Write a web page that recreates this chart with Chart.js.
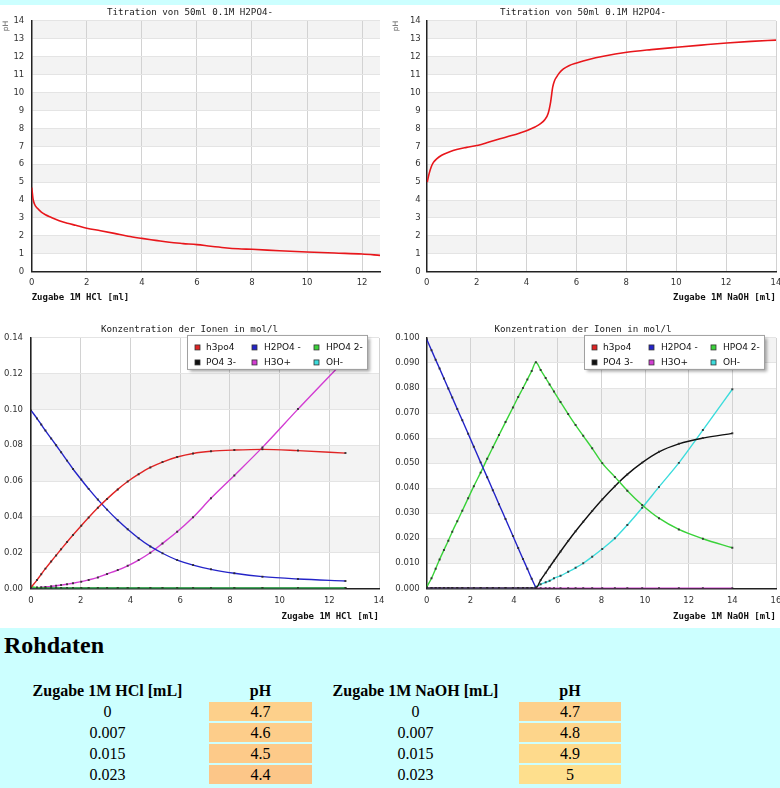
<!DOCTYPE html>
<html lang="de">
<head>
<meta charset="utf-8">
<title>Titration von 50ml 0.1M H2PO4-</title>
<script src="https://cdn.jsdelivr.net/npm/chart.js@4.4.1/dist/chart.umd.min.js"></script>
<style>
  body { margin: 0; background: #ccffff; font-family: "Liberation Serif", "Times New Roman", serif; }
  #charts { position: relative; margin-top: 5px; width: 780px; height: 623px; background: #fff; }
  #charts canvas { position: absolute; }
  h2 { margin: 3px 0 0 4px; font-size: 24px; line-height: 28px; }
  table { margin: 20px 0 0 6px; border-spacing: 2px; font-size: 16px; }
  th, td { padding: 0; height: 19px; text-align: center; }
</style>
</head>
<body>
<div id="charts">
  <canvas id="phHcl" width="390" height="311" style="left:0;top:0"></canvas>
  <canvas id="phNaoh" width="390" height="311" style="left:390px;top:0"></canvas>
  <canvas id="ionHcl" width="390" height="311" style="left:0;top:311px"></canvas>
  <canvas id="ionNaoh" width="390" height="311" style="left:390px;top:311px"></canvas>
</div>
<h2>Rohdaten</h2>
<table id="raw">
  <thead>
    <tr><th style="width:199px">Zugabe 1M HCl [mL]</th><th style="width:103px">pH</th><th style="width:203px">Zugabe 1M NaOH [mL]</th><th style="width:102px">pH</th></tr>
  </thead>
  <tbody></tbody>
</table>
<script>
// pH-Kurven (oben)
const hclVolume = [0, 0.007, 0.015, 0.023, 0.05, 0.1, 0.2, 0.35, 0.5, 0.7, 1.0, 1.3, 1.6, 2.0, 2.5, 3.0, 3.5, 4.0, 4.5, 5.0, 5.5, 6.0, 6.5, 7.0, 7.5, 8.0, 9.0, 10.0, 11.0, 12.0, 12.65];
const hclPH = [4.7, 4.6, 4.5, 4.4, 4.05, 3.78, 3.55, 3.33, 3.18, 3.04, 2.85, 2.71, 2.59, 2.43, 2.29, 2.14, 1.98, 1.86, 1.75, 1.64, 1.57, 1.51, 1.42, 1.34, 1.28, 1.25, 1.17, 1.10, 1.04, 0.99, 0.91];

const naohVolume = [0.023, 0.06, 0.1, 0.18, 0.27, 0.4, 0.6, 0.9, 1.2, 1.6, 2.07, 2.5, 2.94, 3.4, 3.74, 4.05, 4.34, 4.55, 4.74, 4.87, 4.97, 5.05, 5.12, 5.21, 5.33, 5.48, 5.7, 6.01, 6.5, 7.08, 8.02, 9.0, 10.02, 11.0, 12.02, 13.0, 14.0];
const naohPH = [5.0, 5.25, 5.49, 5.85, 6.1, 6.3, 6.5, 6.68, 6.82, 6.94, 7.06, 7.24, 7.42, 7.6, 7.75, 7.9, 8.08, 8.25, 8.5, 8.85, 9.5, 10.3, 10.65, 10.88, 11.12, 11.32, 11.5, 11.65, 11.85, 12.03, 12.25, 12.4, 12.53, 12.65, 12.77, 12.86, 12.93];

// Ionenkonzentrationen, HCl (unten links)
const hclIonVolume = [0, 0.24, 0.41, 0.58, 0.81, 1.01, 1.21, 1.45, 1.69, 2.02, 2.32, 2.69, 3.06, 3.49, 3.89, 4.33, 4.80, 5.29, 5.88, 6.52, 7.24, 8.18, 9.31, 10.74, 12.65];
const hclH3PO4 = [0.0005, 0.0046, 0.0078, 0.0110, 0.0150, 0.0184, 0.0218, 0.0259, 0.0298, 0.0350, 0.0396, 0.0450, 0.0500, 0.0553, 0.0597, 0.0638, 0.0676, 0.0706, 0.0734, 0.0754, 0.0766, 0.0773, 0.0777, 0.0770, 0.0756];
const hclH2PO4 = [0.0995, 0.0950, 0.0916, 0.0882, 0.0838, 0.0800, 0.0761, 0.0714, 0.0667, 0.0608, 0.0556, 0.0496, 0.0440, 0.0380, 0.0330, 0.0280, 0.0234, 0.0196, 0.0158, 0.0130, 0.0106, 0.0084, 0.0065, 0.0052, 0.0041];
const hclHPO4 = [0.0010, 0.0003, 0.0002, 0.0001, 0.0001, 0, 0, 0, 0, 0, 0, 0, 0, 0, 0, 0, 0, 0, 0, 0, 0, 0, 0, 0, 0];
const hclPO4 = [0, 0, 0, 0, 0, 0, 0, 0, 0, 0, 0, 0, 0, 0, 0, 0, 0, 0, 0, 0, 0, 0, 0, 0, 0];
const hclH3O = [0.0001, 0.0004, 0.0006, 0.0008, 0.0011, 0.0014, 0.0018, 0.0023, 0.0028, 0.0037, 0.0047, 0.0061, 0.0080, 0.0102, 0.0126, 0.0158, 0.0199, 0.0251, 0.0316, 0.0397, 0.0503, 0.0631, 0.0788, 0.1002, 0.1280];
const hclOH = [0, 0, 0, 0, 0, 0, 0, 0, 0, 0, 0, 0, 0, 0, 0, 0, 0, 0, 0, 0, 0, 0, 0, 0, 0];

// Ionenkonzentrationen, NaOH (unten rechts)
const naohIonVolume = [0, 0.22, 0.41, 0.59, 0.79, 0.99, 1.17, 1.40, 1.63, 1.90, 2.16, 2.47, 2.77, 3.03, 3.31, 3.61, 3.95, 4.19, 4.41, 4.61, 4.81, 5.0, 5.22, 5.45, 5.63, 5.83, 6.13, 6.48, 6.82, 7.17, 7.58, 8.04, 8.62, 9.19, 9.87, 10.64, 11.55, 12.65, 14.0];
const naohH3PO4 = [];
const naohH2PO4 = [0.0995, 0.0951, 0.0913, 0.0878, 0.0838, 0.0798, 0.0762, 0.0716, 0.0671, 0.0617, 0.0565, 0.0503, 0.0444, 0.0392, 0.0336, 0.0277, 0.0209, 0.0161, 0.0117, 0.0078, 0.0038, 0.0002];
const naohHPO4 = [0.0005, 0.0040, 0.0078, 0.0115, 0.0153, 0.0190, 0.0226, 0.0268, 0.0310, 0.0360, 0.0408, 0.0462, 0.0517, 0.0563, 0.0612, 0.0664, 0.0722, 0.0764, 0.0800, 0.0834, 0.0868, 0.0903, 0.0872, 0.0840, 0.0814, 0.0786, 0.0744, 0.0696, 0.0652, 0.0609, 0.0559, 0.0500, 0.0445, 0.0390, 0.0333, 0.0280, 0.0235, 0.0198, 0.0162];
const naohPO4 = [0, 0, 0, 0, 0, 0, 0, 0, 0, 0, 0, 0, 0, 0, 0, 0, 0, 0, 0, 0, 0, 0, 0.0033, 0.0062, 0.0085, 0.0110, 0.0147, 0.0189, 0.0228, 0.0266, 0.0309, 0.0355, 0.0408, 0.0455, 0.0502, 0.0545, 0.0577, 0.0600, 0.0619];
const naohH3O = [0, 0, 0, 0, 0, 0, 0, 0, 0, 0, 0, 0, 0, 0, 0, 0, 0, 0, 0, 0, 0, 0, 0, 0, 0, 0, 0, 0, 0, 0, 0, 0, 0, 0, 0, 0, 0, 0, 0];
const naohOH = [0, 0, 0, 0, 0, 0, 0, 0, 0, 0, 0, 0, 0, 0, 0, 0, 0, 0, 0, 0, 0, 0.0006, 0.0016, 0.0024, 0.0030, 0.0040, 0.0050, 0.0066, 0.0082, 0.0100, 0.0126, 0.0157, 0.0200, 0.0253, 0.0322, 0.0405, 0.0501, 0.0632, 0.0795];

const ionLabels = ['h3po4', 'H2PO4 -', 'HPO4 2-', 'PO4 3-', 'H3O+', 'OH-'];
const ionColors = ['#e02424', '#2424c8', '#3ad23a', '#111111', '#d23cd2', '#3cdcdc'];

// Rohdaten-Tabelle
const rawHclVolume = ['0', '0.007', '0.015', '0.023'];
const rawHclPH = ['4.7', '4.6', '4.5', '4.4'];
const rawNaohVolume = ['0', '0.007', '0.015', '0.023'];
const rawNaohPH = ['4.7', '4.8', '4.9', '5'];
const rawHclColors = ['#fdd08b', '#fdcd8a', '#fdca89', '#fcc688'];
const rawNaohColors = ['#fdd08b', '#fdd58b', '#feda8c', '#fedf8d'];

Chart.defaults.animation = false;
Chart.defaults.responsive = false;
Chart.defaults.devicePixelRatio = 1;
Chart.defaults.events = [];
Chart.defaults.font.family = '"DejaVu Sans", Verdana, sans-serif';

const MONO = '"DejaVu Sans Mono", "Liberation Mono", monospace';

const pts = (xs, ys) => ys.map((y, i) => ({ x: xs[i], y })).filter(p => p.y !== null);

// alternating grey bands behind the plot
const bandPlugin = {
  id: 'bands',
  beforeDraw(chart) {
    const { ctx, chartArea: a, scales: { y } } = chart;
    ctx.save();
    ctx.fillStyle = '#f3f3f3';
    for (let i = 1; i + 1 < y.ticks.length; i += 2) {
      const top = y.getPixelForValue(y.ticks[i + 1].value);
      const bot = y.getPixelForValue(y.ticks[i].value);
      ctx.fillRect(a.left, top, a.right - a.left, bot - top);
    }
    ctx.restore();
  }
};

// boxed legend, 2 rows x 3 columns, top right inside the plot
const boxLegend = {
  id: 'boxLegend',
  afterDraw(chart) {
    const { ctx, chartArea: a } = chart;
    const w = 180, h = 34;
    const left = a.right - 12 - w, top = a.top - 3;
    ctx.save();
    ctx.shadowColor = 'rgba(0,0,0,0.35)';
    ctx.shadowOffsetX = 3;
    ctx.shadowOffsetY = 3;
    ctx.shadowBlur = 3;
    ctx.fillStyle = '#fff';
    ctx.fillRect(left, top, w, h);
    ctx.restore();
    ctx.save();
    ctx.strokeStyle = '#a0a0a0';
    ctx.lineWidth = 1;
    ctx.strokeRect(left + 0.5, top + 0.5, w, h);
    const colSq = [8, 65, 127];
    const colTx = [19, 77, 139];
    ctx.font = '9px "DejaVu Sans", Verdana, sans-serif';
    ctx.textBaseline = 'middle';
    chart.data.datasets.forEach((ds, i) => {
      const row = Math.floor(i / 3), col = i % 3;
      const cy = top + 12.5 + row * 15;
      ctx.fillStyle = ds.borderColor;
      ctx.fillRect(left + colSq[col], cy - 2.5, 5, 5);
      ctx.strokeStyle = '#333';
      ctx.lineWidth = 0.8;
      ctx.strokeRect(left + colSq[col], cy - 2.5, 5, 5);
      ctx.fillStyle = '#111';
      ctx.fillText(ds.label, left + colTx[col], cy);
    });
    ctx.restore();
  }
};

function makeChart(id, opt) {
  const xScale = {
    type: 'linear',
    min: 0,
    max: opt.xMax,
    border: { color: '#222', width: 1.5 },
    grid: { color: '#d2d2d2', drawTicks: false },
    ticks: { stepSize: 2, includeBounds: false, padding: opt.xTickPad, color: '#333', font: { size: 8.5 }, maxRotation: 0, autoSkip: false },
    title: {
      display: true, text: opt.xTitle, align: opt.xTitleAlign, color: '#111',
      font: { family: MONO, size: 9, weight: 'bold' }, padding: { top: 0, bottom: opt.xTitlePad }
    },
    afterFit: s => { s.height = opt.xHeight; s.paddingLeft = 0; s.paddingRight = 0; }
  };
  const yScale = {
    type: 'linear',
    min: 0,
    max: opt.yMax,
    border: { color: '#222', width: 1.5 },
    grid: { color: '#e4e4e4', drawTicks: false },
    ticks: { stepSize: opt.yStep, padding: opt.yTickPad, color: '#333', font: { size: 8.5 }, autoSkip: false, callback: opt.yFormat },
    title: {
      display: !!opt.yTitle, text: opt.yTitle, align: 'end', color: '#555',
      font: { size: 7.5 }, padding: { top: 1.5, bottom: 0 }
    },
    afterFit: s => { s.width = opt.yWidth; s.paddingTop = 0; s.paddingBottom = 0; }
  };
  return new Chart(document.getElementById(id), {
    type: 'line',
    data: { datasets: opt.datasets },
    options: {
      layout: { padding: { left: 0, top: 0, bottom: 0, right: opt.padRight } },
      plugins: {
        legend: { display: false },
        tooltip: { enabled: false },
        title: {
          display: true, text: opt.title, color: '#222',
          font: { family: MONO, size: 9.2, weight: 'normal' },
          padding: { top: opt.titleTop, bottom: opt.titleBottom }
        }
      },
      scales: { x: xScale, y: yScale }
    },
    plugins: opt.legend ? [bandPlugin, boxLegend] : [bandPlugin]
  });
}

function phDataset(xs, ys) {
  return [{
    label: 'pH',
    data: pts(xs, ys),
    borderColor: '#e8161b',
    borderWidth: 1.6,
    pointRadius: 0,
    cubicInterpolationMode: 'monotone'
  }];
}

function ionDatasets(xs, series) {
  return series.map((ys, i) => ({
    label: ionLabels[i],
    data: pts(xs, ys),
    borderColor: ionColors[i],
    backgroundColor: ionColors[i],
    borderWidth: 1.4,
    pointStyle: 'rect',
    pointRadius: 1.4,
    pointBorderWidth: 0,
    pointBackgroundColor: 'rgba(40,40,40,0.85)',
    cubicInterpolationMode: 'monotone'
  }));
}

const intFmt = v => String(v);

makeChart('phHcl', {
  title: 'Titration von 50ml 0.1M H2PO4-',
  xTitle: 'Zugabe 1M HCl [ml]', xTitleAlign: 'start', xTitlePad: 12.6,
  xMax: 12.65, xHeight: 44.3, xTickPad: 6,
  yMax: 14, yStep: 1, yWidth: 31.7, yTickPad: 7.5, yTitle: 'pH', yFormat: intFmt,
  titleTop: 2, titleBottom: 2.9, padRight: 10,
  datasets: phDataset(hclVolume, hclPH)
});

makeChart('phNaoh', {
  title: 'Titration von 50ml 0.1M H2PO4-',
  xTitle: 'Zugabe 1M NaOH [ml]', xTitleAlign: 'end', xTitlePad: 12.6,
  xMax: 14, xHeight: 44.3, xTickPad: 6,
  yMax: 14, yStep: 1, yWidth: 36.7, yTickPad: 6, yTitle: 'pH', yFormat: intFmt,
  titleTop: 2, titleBottom: 2.9, padRight: 4,
  datasets: phDataset(naohVolume, naohPH)
});

makeChart('ionHcl', {
  title: 'Konzentration der Ionen in mol/l',
  xTitle: 'Zugabe 1M HCl [ml]', xTitleAlign: 'end', xTitlePad: 4.9,
  xMax: 14, xHeight: 38.7, xTickPad: 7,
  yMax: 0.14, yStep: 0.02, yWidth: 31, yTickPad: 8, yFormat: v => v.toFixed(2),
  titleTop: 7.6, titleBottom: 3.3, padRight: 11, legend: true,
  datasets: ionDatasets(hclIonVolume, [hclH3PO4, hclH2PO4, hclHPO4, hclPO4, hclH3O, hclOH])
});

makeChart('ionNaoh', {
  title: 'Konzentration der Ionen in mol/l',
  xTitle: 'Zugabe 1M NaOH [ml]', xTitleAlign: 'end', xTitlePad: 4.9,
  xMax: 16, xHeight: 38.7, xTickPad: 7,
  yMax: 0.1, yStep: 0.01, yWidth: 36.7, yTickPad: 7, yFormat: v => v.toFixed(3),
  titleTop: 7.6, titleBottom: 3.3, padRight: 4, legend: true,
  datasets: ionDatasets(naohIonVolume, [naohH3PO4, naohH2PO4, naohHPO4, naohPO4, naohH3O, naohOH])
});

// raw data table
const tbody = document.querySelector('#raw tbody');
rawHclVolume.forEach((v, i) => {
  const tr = document.createElement('tr');
  tr.innerHTML =
    `<td>${v}</td><td style="background:${rawHclColors[i]}">${rawHclPH[i]}</td>` +
    `<td>${rawNaohVolume[i]}</td><td style="background:${rawNaohColors[i]}">${rawNaohPH[i]}</td>`;
  tbody.appendChild(tr);
});
</script>
</body>
</html>
